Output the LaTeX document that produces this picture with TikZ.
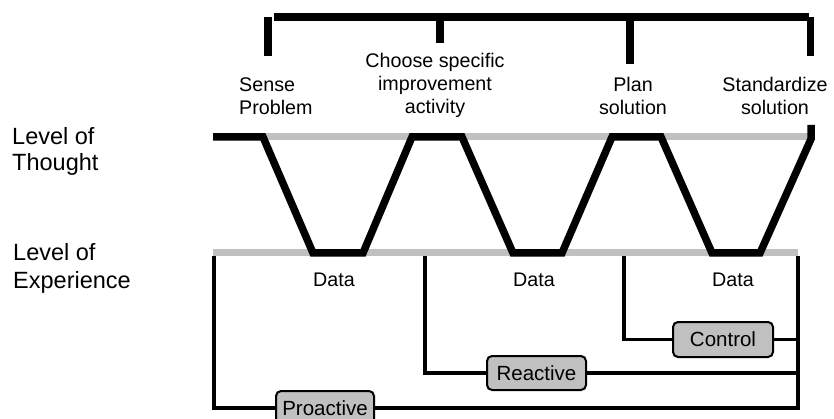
\documentclass[tikz,border=0pt]{standalone}
\usepackage{fontspec}
\setmainfont{Liberation Sans}
\definecolor{lightgrey}{RGB}{192,192,192}
\begin{document}
\begin{tikzpicture}[x=1pt,y=-1pt,
  heavy/.style={line width=7.5pt, line cap=butt, line join=miter},
  greyband/.style={line width=7pt, draw=lightgrey, line cap=butt},
  bracket/.style={line width=7.5pt, line cap=butt},
  thin/.style={line width=3.5pt, line cap=butt, line join=miter},
  lbl/.style={inner sep=0pt, font=\fontsize{19.7}{23}\selectfont},
  lvl/.style={inner sep=0pt, font=\fontsize{23.5}{26}\selectfont, align=left, anchor=base west},
  modebox/.style={draw, line width=2pt, fill=lightgrey, rounded corners=5pt,
    minimum height=34pt, inner sep=0pt, font=\fontsize{20.5}{24}\selectfont}
]
\useasboundingbox (0,0) rectangle (834,419);

% top bracket
\draw[bracket] (274,17) -- (809,17);
\draw[bracket] (268,16.7) -- (268,56);
\draw[bracket] (440,17) -- (440,43);
\draw[bracket] (630,17) -- (630,64);
\draw[bracket] (810.5,17) -- (810.5,56);

% step labels (anchor base = last line)
\node[lbl, align=left, anchor=base west] (sense) at (239,115) {Sense\\Problem};
\node[lbl, align=center, anchor=base] (choose) at (435,114) {Choose specific\\improvement\\activity};
\node[lbl, align=center, anchor=base] (plan) at (633,115) {Plan\\solution};
\node[lbl, align=center, anchor=base] (stand) at (775,115) {Standardize\\solution};

% level labels
\node[lvl] (thought) at (12,171) {Level of\\Thought};
\node[lvl, font=\fontsize{23.5}{28}\selectfont] (exper) at (13,288) {Level of\\Experience};

% grey levels
\draw[greyband] (263,137) -- (808,137);
\draw[greyband] (213,253) -- (798,253);

% thought / experience path
\draw[heavy] (213,137) -- (263,137) -- (313,253) -- (363,253) -- (412,137)
  -- (462,137) -- (513,253) -- (562,253) -- (612,137) -- (661,137)
  -- (712,253) -- (760,253) -- (811,139) -- (811,125);

% data labels
\node[lbl, anchor=base] (d1) at (334,287) {Data};
\node[lbl, anchor=base] (d2) at (534,287) {Data};
\node[lbl, anchor=base] (d3) at (733,287) {Data};

% mode boxes
\node[modebox, minimum width=98pt] (pro) at (325,408) {Proactive};
\node[modebox, minimum width=99pt] (rea) at (536.5,373) {Reactive};
\node[modebox, minimum width=100pt, minimum height=35pt] (con) at (723,339.5) {Control};

% feedback lines
\coordinate (p0) at (214,256);
\coordinate (r0) at (425,256);
\coordinate (c0) at (624,256);
\coordinate (e0) at (798,256);
\coordinate (e1) at (798,409.5);
\draw[thin] (pro.west) -| (p0);
\draw[thin] (rea.west) -| (r0);
\draw[thin] (con.west) -| (c0);
\draw[thin] (e0) -- (e1);
\draw[thin] (pro.east) -- (pro.east -| e0);
\draw[thin] (rea.east) -- (rea.east -| e0);
\draw[thin] (con.east) -- (con.east -| e0);
\end{tikzpicture}
\end{document}
